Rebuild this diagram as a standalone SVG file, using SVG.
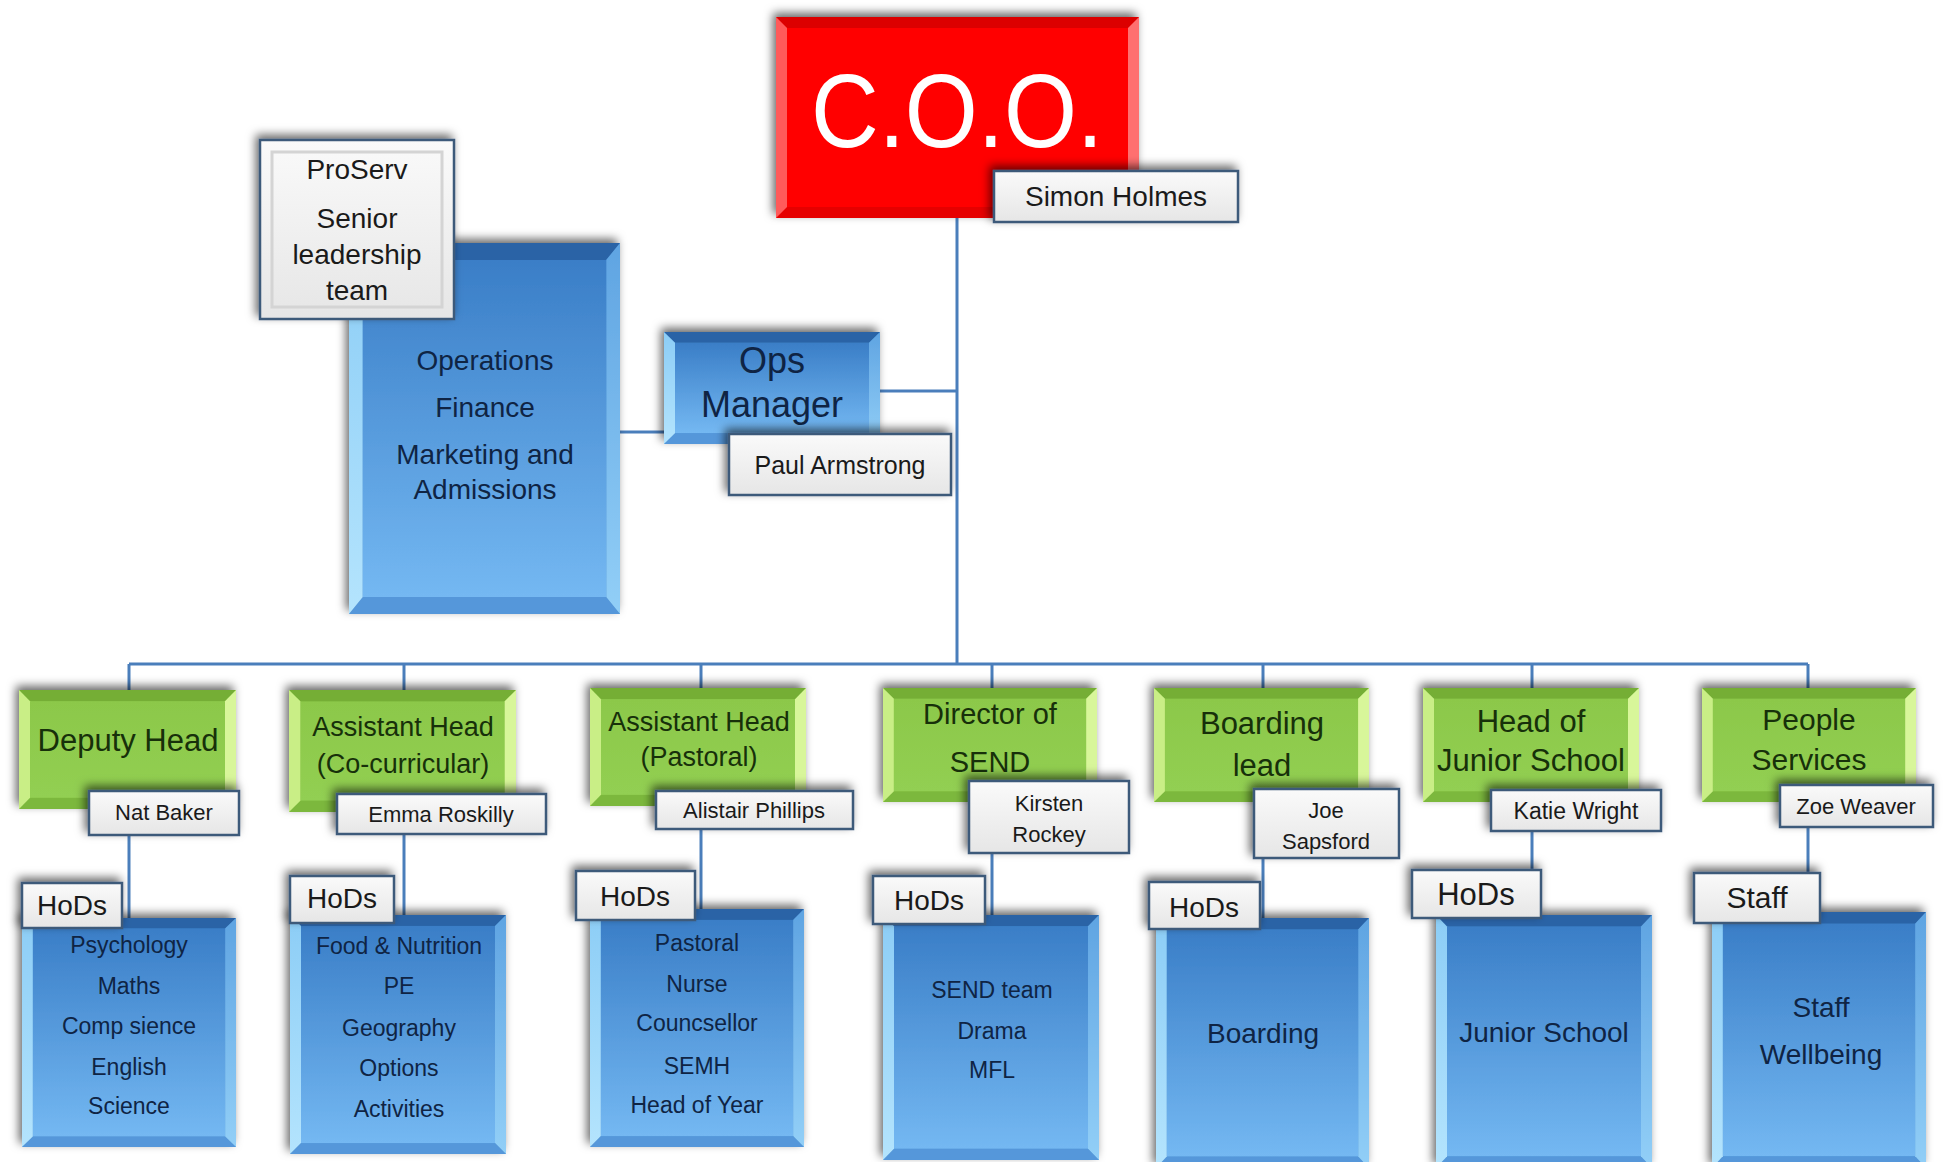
<svg xmlns="http://www.w3.org/2000/svg" xmlns:xlink="http://www.w3.org/1999/xlink" width="1945" height="1162" viewBox="0 0 1945 1162">
<defs>
<filter id="sh" x="-25%" y="-45%" width="150%" height="190%">
<feDropShadow dx="-3" dy="-4" stdDeviation="5" flood-color="#000" flood-opacity="0.6"/>
</filter>
<linearGradient id="gBlueI" x1="0" y1="0" x2="0" y2="1"><stop offset="0" stop-color="#3a7ec7"/><stop offset="1" stop-color="#74b8f2"/></linearGradient>
<linearGradient id="gBlueL" x1="0" y1="0" x2="0" y2="1"><stop offset="0" stop-color="#8ccdf6"/><stop offset="1" stop-color="#b4e4fd"/></linearGradient>
<linearGradient id="gBlueR" x1="0" y1="0" x2="0" y2="1"><stop offset="0" stop-color="#5fa4e2"/><stop offset="1" stop-color="#92cff7"/></linearGradient>
<linearGradient id="gGreenI" x1="0" y1="0" x2="0" y2="1"><stop offset="0" stop-color="#8cc84a"/><stop offset="1" stop-color="#92cf52"/></linearGradient>
<linearGradient id="gLab" x1="0" y1="0" x2="0" y2="1"><stop offset="0" stop-color="#fafafa"/><stop offset="1" stop-color="#e6e6e6"/></linearGradient>

<symbol id="bevBlue" viewBox="0 0 216 240" preserveAspectRatio="none">
<rect width="216" height="240" fill="#3b7fc6"/>
<polygon points="0,0 216,0 205,11 11,11" fill="#2b64a6"/>
<polygon points="0,240 216,240 205,229 11,229" fill="#5497da"/>
<polygon points="0,0 11,11 11,229 0,240" fill="url(#gBlueL)"/>
<polygon points="216,0 205,11 205,229 216,240" fill="url(#gBlueR)"/>
<rect x="11" y="11" width="194" height="218" fill="url(#gBlueI)"/>
</symbol>
<symbol id="bevBlueS" viewBox="0 0 216 114" preserveAspectRatio="none">
<rect width="216" height="114" fill="#3b7fc6"/>
<polygon points="0,0 216,0 205,11 11,11" fill="#2b64a6"/>
<polygon points="0,114 216,114 205,103 11,103" fill="#5497da"/>
<polygon points="0,0 11,11 11,103 0,114" fill="url(#gBlueL)"/>
<polygon points="216,0 205,11 205,103 216,114" fill="url(#gBlueR)"/>
<rect x="11" y="11" width="194" height="92" fill="url(#gBlueI)"/>
</symbol>
<symbol id="bevGreen" viewBox="0 0 216 116" preserveAspectRatio="none">
<rect width="216" height="116" fill="#86c244"/>
<polygon points="0,0 216,0 205,11 11,11" fill="#74ae36"/>
<polygon points="0,116 216,116 205,105 11,105" fill="#7cb83e"/>
<polygon points="0,0 11,11 11,105 0,116" fill="#c9ee86"/>
<polygon points="216,0 205,11 205,105 216,116" fill="#d8f69a"/>
<rect x="11" y="11" width="194" height="94" fill="url(#gGreenI)"/>
</symbol>
<symbol id="bevRed" viewBox="0 0 363 201" preserveAspectRatio="none">
<rect width="363" height="201" fill="#f00000"/>
<polygon points="0,0 363,0 352,11 11,11" fill="#dc0000"/>
<polygon points="0,201 363,201 352,190 11,190" fill="#e60000"/>
<polygon points="0,0 11,11 11,190 0,201" fill="#ff5a5a"/>
<polygon points="363,0 352,11 352,190 363,201" fill="#ff7070"/>
<rect x="11" y="11" width="341" height="179" fill="#ff0000"/>
</symbol>

<style>
.sh{filter:url(#sh)}
.ln{stroke:#4a7ebb;stroke-width:3;fill:none}
.lb{fill:url(#gLab);stroke:#3c5a7a;stroke-width:2.5}
.t{font-family:"Liberation Sans",Arial,sans-serif;text-anchor:middle}
.tb{fill:#0f2444}
.tg{fill:#17300a}
.tn{fill:#1a1a1a}
</style>
</defs>
<rect width="1945" height="1162" fill="#ffffff"/>

<g id="connectors">
<path class="ln" d="M957 218V664"/>
<path class="ln" d="M129 664H1808"/>
<path class="ln" d="M880 391H957"/>
<path class="ln" d="M620 432H664"/>
<path class="ln" d="M129 664V918"/>
<path class="ln" d="M404 664V915"/>
<path class="ln" d="M701 664V909"/>
<path class="ln" d="M992 664V915"/>
<path class="ln" d="M1263 664V918"/>
<path class="ln" d="M1532 664V915"/>
<path class="ln" d="M1808 664V912"/>
</g>

<g id="coo">
<use class="sh" xlink:href="#bevRed" href="#bevRed" x="776" y="17" width="363" height="201"/>
<text class="t" x="957" y="147" font-size="104" fill="#ffffff" textLength="292" lengthAdjust="spacingAndGlyphs">C.O.O.</text>
<rect class="lb sh" x="994" y="171" width="244" height="51"/>
<text class="t tn" x="1116" y="206" font-size="28">Simon Holmes</text>
</g>

<g id="operations">
<use class="sh" xlink:href="#bevBlue" href="#bevBlue" x="349" y="243" width="271" height="371"/>
<text class="t tb" x="485" y="370" font-size="28">Operations</text>
<text class="t tb" x="485" y="417" font-size="28">Finance</text>
<text class="t tb" x="485" y="464" font-size="28">Marketing and</text>
<text class="t tb" x="485" y="499" font-size="28">Admissions</text>
</g>

<g id="proserv">
<rect class="lb sh" x="260" y="140" width="194" height="179"/>
<rect x="272" y="152" width="170" height="155" fill="none" stroke="#d4d4d4" stroke-width="3"/>
<text class="t tn" x="357" y="179" font-size="28">ProServ</text>
<text class="t tn" x="357" y="228" font-size="28">Senior</text>
<text class="t tn" x="357" y="264" font-size="28">leadership</text>
<text class="t tn" x="357" y="300" font-size="28">team</text>
</g>

<g id="ops-manager">
<use class="sh" xlink:href="#bevBlueS" href="#bevBlueS" x="664" y="332" width="216" height="112"/>
<text class="t tb" x="772" y="373" font-size="36">Ops</text>
<text class="t tb" x="772" y="417" font-size="36">Manager</text>
<rect class="lb sh" x="729" y="434" width="222" height="61"/>
<text class="t tn" x="840" y="474" font-size="25">Paul Armstrong</text>
</g>

<g id="deputy-head">
<use class="sh" xlink:href="#bevGreen" href="#bevGreen" x="19" y="690" width="217" height="119"/>
<text class="t tg" x="128" y="751" font-size="31">Deputy Head</text>
<rect class="lb sh" x="89" y="791" width="150" height="44"/>
<text class="t tn" x="164" y="820" font-size="22">Nat Baker</text>
</g>

<g id="ah-cocurricular">
<use class="sh" xlink:href="#bevGreen" href="#bevGreen" x="289" y="690" width="227" height="122"/>
<text class="t tg" x="403" y="736" font-size="27">Assistant Head</text>
<text class="t tg" x="403" y="773" font-size="27">(Co-curricular)</text>
<rect class="lb sh" x="337" y="794" width="209" height="40"/>
<text class="t tn" x="441" y="822" font-size="22">Emma Roskilly</text>
</g>

<g id="ah-pastoral">
<use class="sh" xlink:href="#bevGreen" href="#bevGreen" x="590" y="688" width="216" height="118"/>
<text class="t tg" x="699" y="731" font-size="27">Assistant Head</text>
<text class="t tg" x="699" y="766" font-size="27">(Pastoral)</text>
<rect class="lb sh" x="656" y="791" width="197" height="38"/>
<text class="t tn" x="754" y="818" font-size="22">Alistair Phillips</text>
</g>

<g id="director-send">
<use class="sh" xlink:href="#bevGreen" href="#bevGreen" x="883" y="688" width="214" height="114"/>
<text class="t tg" x="990" y="724" font-size="29">Director of</text>
<text class="t tg" x="990" y="772" font-size="29">SEND</text>
<rect class="lb sh" x="969" y="781" width="160" height="72"/>
<text class="t tn" x="1049" y="811" font-size="22">Kirsten</text>
<text class="t tn" x="1049" y="842" font-size="22">Rockey</text>
</g>

<g id="boarding-lead">
<use class="sh" xlink:href="#bevGreen" href="#bevGreen" x="1154" y="688" width="215" height="114"/>
<text class="t tg" x="1262" y="734" font-size="31">Boarding</text>
<text class="t tg" x="1262" y="776" font-size="31">lead</text>
<rect class="lb sh" x="1254" y="789" width="145" height="69"/>
<text class="t tn" x="1326" y="818" font-size="22">Joe</text>
<text class="t tn" x="1326" y="849" font-size="22">Sapsford</text>
</g>

<g id="head-junior">
<use class="sh" xlink:href="#bevGreen" href="#bevGreen" x="1423" y="688" width="216" height="114"/>
<text class="t tg" x="1531" y="732" font-size="31">Head of</text>
<text class="t tg" x="1531" y="771" font-size="31">Junior School</text>
<rect class="lb sh" x="1491" y="790" width="170" height="41"/>
<text class="t tn" x="1576" y="819" font-size="23">Katie Wright</text>
</g>

<g id="people-services">
<use class="sh" xlink:href="#bevGreen" href="#bevGreen" x="1702" y="688" width="214" height="114"/>
<text class="t tg" x="1809" y="730" font-size="30">People</text>
<text class="t tg" x="1809" y="770" font-size="30">Services</text>
<rect class="lb sh" x="1780" y="785" width="153" height="42"/>
<text class="t tn" x="1856" y="814" font-size="22">Zoe Weaver</text>
</g>

<g id="hods-deputy">
<use class="sh" xlink:href="#bevBlue" href="#bevBlue" x="22" y="918" width="214" height="229"/>
<text class="t tb" x="129" y="953" font-size="23">Psychology</text>
<text class="t tb" x="129" y="994" font-size="23">Maths</text>
<text class="t tb" x="129" y="1034" font-size="23">Comp sience</text>
<text class="t tb" x="129" y="1075" font-size="23">English</text>
<text class="t tb" x="129" y="1114" font-size="23">Science</text>
<rect class="lb sh" x="22" y="883" width="100" height="45"/>
<text class="t tn" x="72" y="915" font-size="28">HoDs</text>
</g>

<g id="hods-cocurricular">
<use class="sh" xlink:href="#bevBlue" href="#bevBlue" x="290" y="915" width="216" height="239"/>
<text class="t tb" x="399" y="954" font-size="23">Food &amp; Nutrition</text>
<text class="t tb" x="399" y="994" font-size="23">PE</text>
<text class="t tb" x="399" y="1036" font-size="23">Geography</text>
<text class="t tb" x="399" y="1076" font-size="23">Options</text>
<text class="t tb" x="399" y="1117" font-size="23">Activities</text>
<rect class="lb sh" x="290" y="876" width="104" height="47"/>
<text class="t tn" x="342" y="908" font-size="28">HoDs</text>
</g>

<g id="hods-pastoral">
<use class="sh" xlink:href="#bevBlue" href="#bevBlue" x="590" y="909" width="214" height="238"/>
<text class="t tb" x="697" y="951" font-size="23">Pastoral</text>
<text class="t tb" x="697" y="992" font-size="23">Nurse</text>
<text class="t tb" x="697" y="1031" font-size="23">Councsellor</text>
<text class="t tb" x="697" y="1074" font-size="23">SEMH</text>
<text class="t tb" x="697" y="1113" font-size="23">Head of Year</text>
<rect class="lb sh" x="576" y="871" width="119" height="49"/>
<text class="t tn" x="635" y="906" font-size="28">HoDs</text>
</g>

<g id="hods-send">
<use class="sh" xlink:href="#bevBlue" href="#bevBlue" x="883" y="915" width="216" height="245"/>
<text class="t tb" x="992" y="998" font-size="23">SEND team</text>
<text class="t tb" x="992" y="1039" font-size="23">Drama</text>
<text class="t tb" x="992" y="1078" font-size="23">MFL</text>
<rect class="lb sh" x="873" y="876" width="112" height="48"/>
<text class="t tn" x="929" y="910" font-size="28">HoDs</text>
</g>

<g id="hods-boarding">
<use class="sh" xlink:href="#bevBlue" href="#bevBlue" x="1156" y="918" width="213" height="250"/>
<text class="t tb" x="1263" y="1043" font-size="28">Boarding</text>
<rect class="lb sh" x="1149" y="882" width="111" height="47"/>
<text class="t tn" x="1204" y="917" font-size="28">HoDs</text>
</g>

<g id="hods-junior">
<use class="sh" xlink:href="#bevBlue" href="#bevBlue" x="1436" y="915" width="216" height="253"/>
<text class="t tb" x="1544" y="1042" font-size="28">Junior School</text>
<rect class="lb sh" x="1412" y="870" width="129" height="48"/>
<text class="t tn" x="1476" y="905" font-size="31">HoDs</text>
</g>

<g id="staff-people">
<use class="sh" xlink:href="#bevBlue" href="#bevBlue" x="1712" y="912" width="214" height="256"/>
<text class="t tb" x="1821" y="1017" font-size="28">Staff</text>
<text class="t tb" x="1821" y="1064" font-size="28">Wellbeing</text>
<rect class="lb sh" x="1694" y="873" width="126" height="50"/>
<text class="t tn" x="1757" y="908" font-size="30">Staff</text>
</g>
</svg>
